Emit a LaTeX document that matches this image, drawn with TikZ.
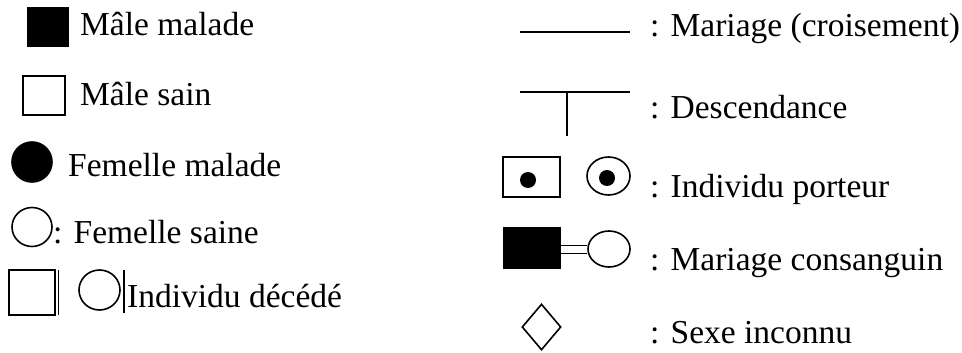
\documentclass[tikz,border=0pt]{standalone}
\usepackage{fontspec}
\setmainfont{Liberation Serif}
\usetikzlibrary{shapes.geometric}
\tikzset{
  lbl/.style={anchor=base west, inner sep=0pt, font=\fontsize{33.5}{40}\selectfont},
  sym/.style={draw=black, line width=1.6pt, inner sep=0pt},
  sqr/.style={sym, rectangle},
  rnd/.style={sym, ellipse},
  dotc/.style={circle, fill=black, inner sep=0pt, minimum size=16pt},
  ln/.style={line width=1.6pt},
}
\begin{document}
\begin{tikzpicture}[x=1pt,y=-1pt]
\useasboundingbox (0,0) rectangle (962,353);
% left column
\node[sqr, fill=black, minimum width=40pt, minimum height=38pt] (mm) at (48,27) {};
\node[lbl] (tmm) at (80,36) {Mâle malade};
\node[sqr, minimum width=42pt, minimum height=39pt] (ms) at (44,95.5) {};
\node[lbl] (tms) at (80,106) {Mâle sain};
\node[rnd, fill=black, minimum width=40pt, minimum height=40pt] (fm) at (32,162) {};
\node[lbl] (tfm) at (68,176) {Femelle malade};
\node[rnd, minimum width=40pt, minimum height=39pt] (fs) at (32,227) {};
\node[lbl] (tfs) at (53,243) {: Femelle saine};
\node[sqr, minimum width=46pt, minimum height=45pt] (ds) at (32,292.5) {};
\coordinate (ds1) at (58.5,270);
\coordinate (ds2) at (58.5,315);
\draw[ln] (ds1) -- (ds2);
\node[rnd, minimum width=41pt, minimum height=40pt] (dc) at (99.5,290) {};
\coordinate (dc1) at (124,270);
\coordinate (dc2) at (124,313);
\draw[ln] (dc1) -- (dc2);
\node[lbl] (tdd) at (127,307) {Individu décédé};
% right column
\coordinate (m1) at (520,32);
\coordinate (m2) at (630,32);
\draw[ln] (m1) -- (m2);
\node[lbl] (tmar) at (650,37) {: Mariage (croisement)};
\coordinate (d1) at (520,92);
\coordinate (d2) at (630,92);
\coordinate (d3) at (567,92);
\coordinate (d4) at (567,136);
\draw[ln] (d1) -- (d2);
\draw[ln] (d3) -- (d4);
\node[lbl] (tdes) at (650,118) {: Descendance};
\node[sqr, minimum width=57pt, minimum height=40pt] (pq) at (531.5,177) {};
\node[dotc] (pqd) at (528,180) {};
\node[rnd, minimum width=43pt, minimum height=38pt] (pc) at (608.5,176) {};
\node[dotc] (pcd) at (607,178) {};
\node[lbl] (tpor) at (650,197) {: Individu porteur};
\node[sqr, fill=black, minimum width=56pt, minimum height=40pt] (cs) at (532,248) {};
\node[rnd, minimum width=42pt, minimum height=36pt] (cc) at (609,249) {};
\draw[line width=1.5pt, double, double distance=6.5pt] (cs.east |- 0,249.5) -- (cc.west |- 0,249.5);
\node[lbl] (tcon) at (650,270) {: Mariage consanguin};
\node[sym, diamond, minimum width=39pt, minimum height=46pt] (di) at (541.5,327) {};
\node[lbl] (tsex) at (650,343) {: Sexe inconnu};
\end{tikzpicture}
\end{document}
